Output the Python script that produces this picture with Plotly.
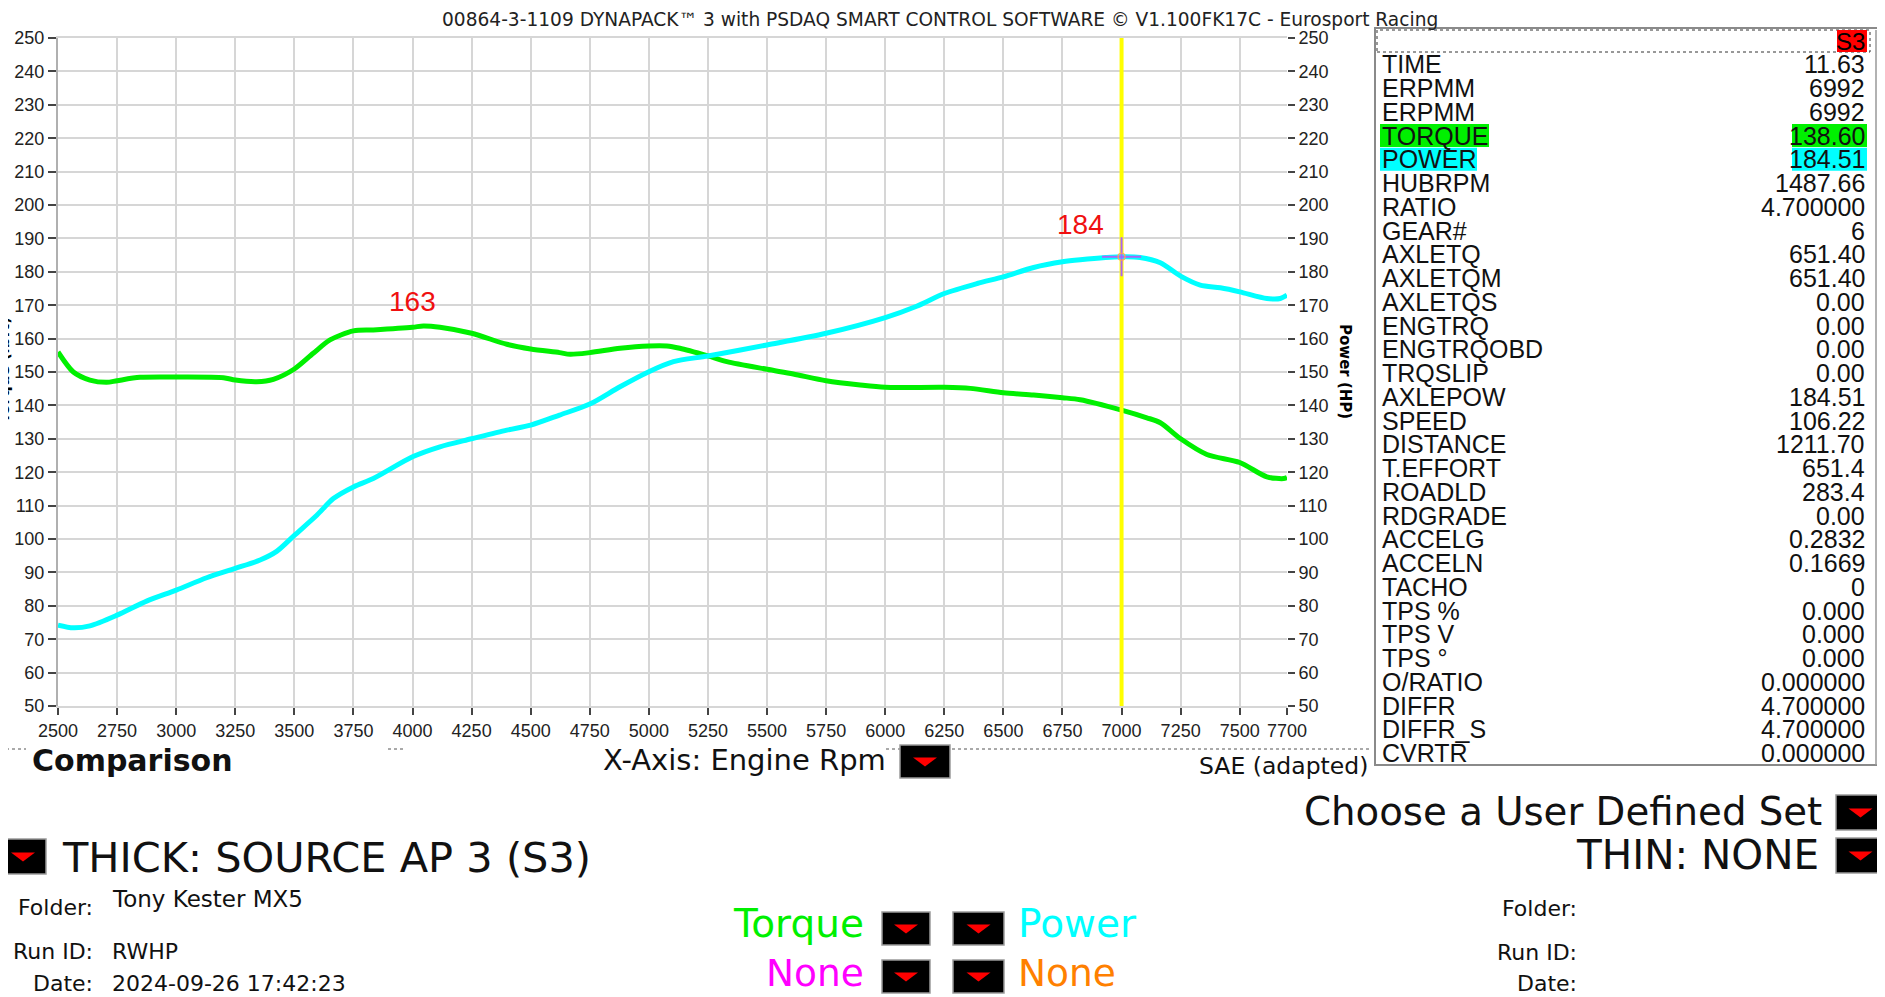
import plotly.graph_objects as go

# engine rpm / torque (lbft)
torque_rpm = [2500, 2565, 2635, 2706, 2750, 2847, 3000, 3200, 3250, 3341, 3411, 3500, 3580, 3651,
              3750, 3834, 4000, 4046, 4116, 4250, 4399, 4500, 4622, 4667, 4750, 4878, 5000, 5076,
              5131, 5250, 5330, 5500, 5611, 5750, 5894, 6000, 6250, 6360, 6500, 6628, 6750, 6825,
              7000, 7107, 7164, 7250, 7361, 7500, 7615, 7686, 7700]
torque = [156.0, 150.0, 147.6, 146.9, 147.4, 148.4, 148.5, 148.3, 147.6, 147.1, 147.8, 150.9, 155.6,
          159.6, 162.3, 162.6, 163.4, 163.8, 163.4, 161.6, 158.3, 156.9, 155.8, 155.3, 155.8, 157.1,
          157.8, 157.8, 157.1, 154.8, 153.1, 150.8, 149.4, 147.4, 146.1, 145.4, 145.4, 145.1, 143.8,
          143.1, 142.3, 141.7, 138.6, 136.3, 134.8, 130.0, 125.3, 122.9, 118.6, 118.1, 118.4]

# engine rpm / power (HP)
power_rpm = [2500, 2565, 2635, 2750, 2875, 3000, 3129, 3250, 3355, 3425, 3500, 3595, 3665, 3750,
             3834, 4000, 4116, 4250, 4399, 4500, 4622, 4750, 4878, 5000, 5104, 5250, 5500, 5750,
             6000, 6133, 6250, 6389, 6500, 6628, 6750, 6825, 7000, 7078, 7164, 7250, 7333, 7418,
             7500, 7615, 7672, 7700]
power = [74.2, 73.4, 74.0, 77.2, 81.4, 84.7, 88.4, 91.2, 93.7, 96.3, 101.1, 107.1, 112.1, 115.6,
         118.1, 124.6, 127.6, 130.0, 132.6, 134.1, 137.1, 140.4, 145.6, 150.1, 153.1, 154.8, 158.1,
         161.6, 166.3, 169.7, 173.5, 176.5, 178.5, 181.3, 183.0, 183.6, 184.5, 184.3, 182.7, 178.7,
         176.0, 175.2, 174.0, 172.0, 172.0, 173.0]

x_ticks = [2500, 2750, 3000, 3250, 3500, 3750, 4000, 4250, 4500, 4750, 5000, 5250, 5500,
           5750, 6000, 6250, 6500, 6750, 7000, 7250, 7500, 7700]
x_grid = x_ticks[:-1]

cursor_rpm = 7000
cursor_power = power[power_rpm.index(cursor_rpm)]

# cursor read-out panel
panel_labels = ["TIME", "ERPMM", "ERPMM", "TORQUE", "POWER", "HUBRPM", "RATIO", "GEAR#", "AXLETQ",
                "AXLETQM", "AXLETQS", "ENGTRQ", "ENGTRQOBD", "TRQSLIP", "AXLEPOW", "SPEED",
                "DISTANCE", "T.EFFORT", "ROADLD", "RDGRADE", "ACCELG", "ACCELN", "TACHO", "TPS %",
                "TPS V", "TPS °", "O/RATIO", "DIFFR", "DIFFR_S", "CVRTR"]
panel_values = ["11.63", "6992", "6992", "138.60", "184.51", "1487.66", "4.700000", "6", "651.40",
                "651.40", "0.00", "0.00", "0.00", "0.00", "184.51", "106.22", "1211.70", "651.4",
                "283.4", "0.00", "0.2832", "0.1669", "0", "0.000", "0.000", "0.000", "0.000000",
                "4.700000", "4.700000", "0.000000"]

TITLE = "00864-3-1109 DYNAPACK™ 3 with PSDAQ SMART CONTROL SOFTWARE © V1.100FK17C - Eurosport Racing"

# the page body adds an 8px margin, so the figure is drawn 8px smaller and
# every screen position below is shifted back by that offset
OFF = 8
W, H = 1885 - OFF, 997 - OFF
UI = "DejaVu Sans, Verdana, sans-serif"
NUM = "Liberation Sans, Arial, sans-serif"
GREEN = "#00f000"
CYAN = "#00ffff"
GRID = "#d6d6d6"


def px(x):
    return (x - OFF) / W


def py(y):
    return 1 - (y - OFF) / H


fig = go.Figure()

fig.add_trace(go.Scatter(x=torque_rpm, y=torque, mode="lines", yaxis="y",
                         line=dict(color=GREEN, width=5, shape="spline", smoothing=0.8)))
fig.add_trace(go.Scatter(x=power_rpm, y=power, mode="lines", yaxis="y2",
                         line=dict(color=CYAN, width=5, shape="spline", smoothing=0.8)))

# yellow cursor line + red crosshair on the power curve
fig.add_trace(go.Scatter(x=[cursor_rpm, cursor_rpm], y=[50, 250], mode="lines", yaxis="y",
                         line=dict(color="#ffff00", width=4)))
fig.add_trace(go.Scatter(x=[cursor_rpm], y=[cursor_power], mode="markers", yaxis="y2",
                         marker=dict(symbol="cross-thin-open", size=28,
                                     line=dict(color="#ff1010", width=2))))
fig.add_trace(go.Scatter(x=[cursor_rpm], y=[cursor_power], mode="markers", yaxis="y2",
                         marker=dict(symbol="circle-open", size=7,
                                     line=dict(color="#ff1010", width=1.2))))

# peak labels
fig.add_annotation(x=3998, y=171, xref="x", yref="y", text=str(int(max(torque))), showarrow=False,
                   font=dict(family=NUM, size=28, color="#f01010"))
fig.add_annotation(x=6825, y=194.3, xref="x", yref="y", text=str(int(max(power))), showarrow=False,
                   font=dict(family=NUM, size=28, color="#f01010"))

tickfont = dict(family=NUM, size=18, color="#222")
fig.update_layout(
    width=W, height=H,
    margin=dict(l=0, r=0, t=0, b=0, pad=0),
    paper_bgcolor="white", plot_bgcolor="white",
    showlegend=False,
    xaxis=dict(domain=[px(58), px(1287)], range=[2500, 7700], tickvals=x_ticks,
               ticks="outside", ticklen=7, tickwidth=1.5, tickcolor="#444",
               tickfont=tickfont, showgrid=False, zeroline=False, automargin=False,
               showline=True, linecolor=GRID, linewidth=2, mirror=True,
               minor=dict(tickvals=x_grid, showgrid=True, gridcolor=GRID, gridwidth=2,
                          ticks="")),
    yaxis=dict(domain=[py(706), py(38)], range=[50, 250], dtick=10, automargin=False,
               ticks="outside", ticklen=8, tickwidth=1.5, tickcolor="#444",
               tickfont=tickfont, showgrid=True, gridcolor=GRID, gridwidth=2,
               zeroline=False, showline=True, linecolor="#b0b0b0", linewidth=2),
    yaxis2=dict(overlaying="y", side="right", anchor="x", range=[50, 250], dtick=10,
                ticks="outside", ticklen=7, tickwidth=1.5, tickcolor="#444", automargin=False,
                tickfont=tickfont, showgrid=False, zeroline=False, showline=False),
)


def text(x, y, s, size, color="#000", anchor="left", family=UI, angle=0):
    fig.add_annotation(x=px(x), y=py(y), xref="paper", yref="paper", text=s, showarrow=False,
                       xanchor=anchor, yanchor="middle", textangle=angle,
                       font=dict(family=family, size=size, color=color))


def rect(x0, y0, x1, y1, fill=None, line="#000", lw=1, dash=None):
    fig.add_shape(type="rect", xref="paper", yref="paper",
                  x0=px(x0), x1=px(x1), y0=py(y1), y1=py(y0),
                  fillcolor=fill if fill else "rgba(0,0,0,0)",
                  line=dict(color=line, width=lw, dash=dash) if lw else dict(width=0))


def hline(x0, x1, y, color="#555", dash="dot", lw=1):
    fig.add_shape(type="line", xref="paper", yref="paper", x0=px(x0), x1=px(x1),
                  y0=py(y), y1=py(y), line=dict(color=color, width=lw, dash=dash))


def button(x0, y0, x1, y1):
    rect(x0, y0, x1, y1, fill="#000", line="#9a9a9a", lw=1.5)
    cx, cy = (x0 + x1) / 2, (y0 + y1) / 2
    path = "M {} {} L {} {} L {} {} Z".format(px(cx - 12), py(cy - 4), px(cx + 12), py(cy - 4),
                                               px(cx), py(cy + 5))
    fig.add_shape(type="path", xref="paper", yref="paper", path=path,
                  fillcolor="#ff0000", line=dict(width=0))


# title and axis titles (title sits as high as the page margin allows)
text(940, 19, TITLE, 18.6, "#222", "center")
text(4, 370, "<b>Torque (lbft)</b>", 15, "#000", "center", angle=-90)
text(1345, 371, "<b>Power (HP)</b>", 15, "#000", "center", angle=90)

# read-out panel
rect(1375, 28, 1895, 765, fill="white", line="#8a8a8a", lw=2)
rect(1377, 30, 1870, 52, line="#333", lw=1, dash="dot")
rect(1837, 30, 1867, 52, fill="#ff0000", lw=0)
text(1867, 41, "S3", 24, "#000", "right", family=NUM)
fig.add_shape(type="line", xref="paper", yref="paper", x0=px(1876), x1=px(1876),
              y0=py(30), y1=py(765), line=dict(color="#999", width=1.5))
rect(1877, 30, 1885, 100, fill="#000", lw=0)
rect(1877, 740, 1885, 763, fill="#000", lw=0)

ROW0, ROWH = 64.3, 23.75
hl = {"TORQUE": (GREEN, 1489), "POWER": (CYAN, 1477)}
for i, (lab, val) in enumerate(zip(panel_labels, panel_values)):
    yc = ROW0 + i * ROWH
    if lab in hl:
        col, xr = hl[lab]
        rect(1380, yc - 11.5, xr, yc + 11.5, fill=col, lw=0)
        rect(1792, yc - 11.5, 1867, yc + 11.5, fill=col, lw=0)
    text(1380, yc, lab, 25, "#111", "left", family=NUM)
    text(1867, yc, val, 25, "#111", "right", family=NUM)

# control strip below the chart
hline(0, 26, 749)
hline(388, 404, 749)
hline(886, 1372, 749)
text(30, 760, "<b>Comparison</b>", 30, "#111", "left")
text(601, 760, "X-Axis: Engine Rpm", 29, "#111", "left")
button(900, 745, 950, 778)
text(1370, 766, "SAE (adapted)", 23.5, "#111", "right")

text(1824, 811, "Choose a User Defined Set", 38.7, "#111", "right")
button(1836, 795, 1885, 830)
text(1821, 855, "THIN: NONE", 40.5, "#111", "right")
button(1836, 838, 1885, 873)
text(60, 857, "THICK: SOURCE AP 3 (S3)", 41.5, "#111", "left")
button(0, 839, 46, 874)

text(95, 907, "Folder:", 22, "#111", "right")
text(110, 899, "Tony Kester MX5", 23, "#111", "left")
text(95, 951, "Run ID:", 22, "#111", "right")
text(110, 951, "RWHP", 22, "#111", "left")
text(95, 983, "Date:", 22, "#111", "right")
text(110, 983, "2024-09-26 17:42:23", 22, "#111", "left")

text(866, 923, "Torque", 39, "#00f000", "right")
button(882, 912, 930, 945)
text(1016, 923, "Power", 39, "#00ffff", "left")
button(953, 912, 1004, 945)
text(866, 973, "None", 37.5, "#ff00ff", "right")
button(882, 960, 930, 993)
text(1016, 973, "None", 37.5, "#ff8000", "left")
button(953, 960, 1004, 993)

text(1579, 908, "Folder:", 22, "#111", "right")
text(1579, 952, "Run ID:", 22, "#111", "right")
text(1579, 983, "Date:", 22, "#111", "right")

fig.write_html("out.html")
